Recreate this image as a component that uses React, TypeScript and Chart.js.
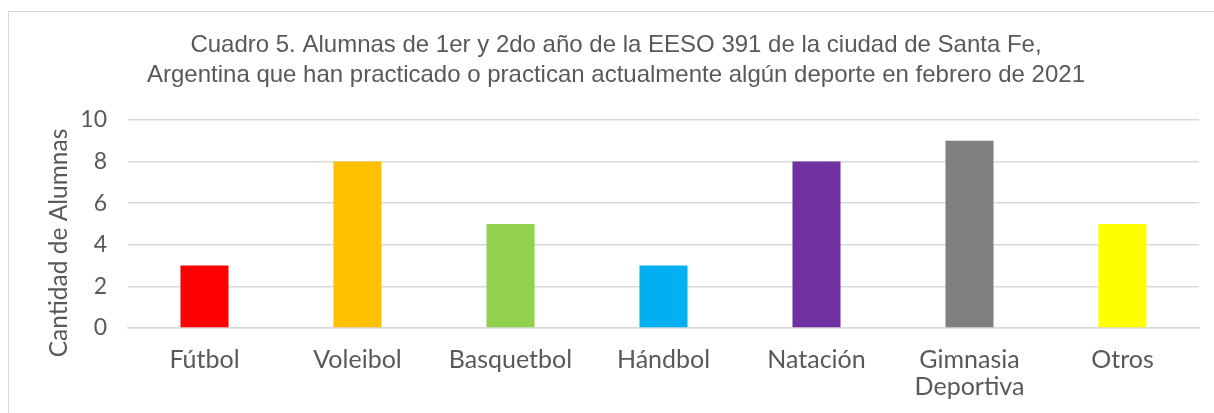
import React, { useEffect, useRef } from "react";
import { Chart, registerables } from "chart.js";

Chart.register(...registerables);

const categories: (string | string[])[] = [
  "Fútbol",
  "Voleibol",
  "Basquetbol",
  "Hándbol",
  "Natación",
  ["Gimnasia", "Deportiva"],
  "Otros",
];
const values: number[] = [3, 8, 5, 3, 8, 9, 5];
const barColors: string[] = [
  "#FF0000",
  "#FFC000",
  "#92D050",
  "#00B0F0",
  "#7030A0",
  "#7F7F7F",
  "#FFFF00",
];
const titleLines: string[] = [
  "Cuadro 5. Alumnas de 1er y 2do año de la EESO 391 de la ciudad de Santa Fe,",
  "Argentina que han practicado o practican actualmente algún deporte en febrero de 2021",
];
const yAxisTitle = "Cantidad de Alumnas";
const yMin = 0;
const yMax = 10;
const yStep = 2;

const TEXT = "#595959";
const GRID = "#D9D9D9";
const SANS = "Lato, 'Open Sans', sans-serif";

const yTitlePlugin = {
  id: "yTitleOffset",
  afterDraw(chart: any) {
    const { ctx, chartArea } = chart;
    ctx.save();
    ctx.fillStyle = TEXT;
    ctx.font = `24.5px ${SANS}`;
    ctx.textAlign = "center";
    ctx.textBaseline = "middle";
    ctx.translate(chartArea.left - 69, chartArea.bottom - 85);
    ctx.rotate(-Math.PI / 2);
    ctx.fillText(yAxisTitle, 0, 0);
    ctx.restore();
  },
};

export default function App() {
  const ref = useRef<HTMLCanvasElement | null>(null);

  useEffect(() => {
    if (!ref.current) return;
    const chart = new Chart(ref.current, {
      type: "bar",
      data: {
        labels: categories,
        datasets: [
          {
            data: values,
            backgroundColor: barColors,
            borderWidth: 0,
            barPercentage: 0.314,
            categoryPercentage: 1,
          },
        ],
      },
      options: {
        responsive: false,
        animation: false,
        layout: { padding: { left: 12, right: 3, top: 0, bottom: 0 } },
        plugins: {
          legend: { display: false },
          tooltip: { enabled: false },
          title: {
            display: true,
            text: titleLines,
            color: TEXT,
            font: { family: "'Liberation Sans', Arial, sans-serif", size: 24, weight: "normal", lineHeight: 1.27 },
            padding: { top: 18, bottom: 29 },
          },
        },
        scales: {
          x: {
            grid: { display: false, drawTicks: false },
            border: { display: true, color: GRID, width: 1.5 },
            ticks: {
              color: TEXT,
              font: { family: SANS, size: 25, lineHeight: 1.08 },
              padding: 18,
              maxRotation: 0,
              autoSkip: false,
            },
            afterFit: (s: any) => {
              s.height = 85;
            },
          },
          y: {
            min: yMin,
            max: yMax,
            ticks: {
              stepSize: yStep,
              color: TEXT,
              font: { family: SANS, size: 23 },
              padding: 21,
            },
            grid: { color: GRID, lineWidth: 1.5, drawTicks: false },
            border: { display: false },
            afterFit: (s: any) => {
              s.width = 107;
            },
          },
          yRightSpace: {
            type: "linear",
            position: "right",
            display: true,
            ticks: { display: false },
            grid: { display: false, drawTicks: false },
            border: { display: false },
            afterFit: (s: any) => {
              s.width = 12;
            },
          },
        },
      },
      plugins: [yTitlePlugin],
    });
    return () => chart.destroy();
  }, []);

  return (
    <div
      style={{
        position: "fixed",
        left: 8,
        top: 11,
        width: 1206,
        height: 402,
        boxSizing: "border-box",
        borderTop: "1px solid #D9D9D9",
        borderLeft: "1px solid #D9D9D9",
        background: "#FFFFFF",
      }}
    >
      <canvas ref={ref} width={1205} height={401} style={{ display: "block" }} />
    </div>
  );
}
